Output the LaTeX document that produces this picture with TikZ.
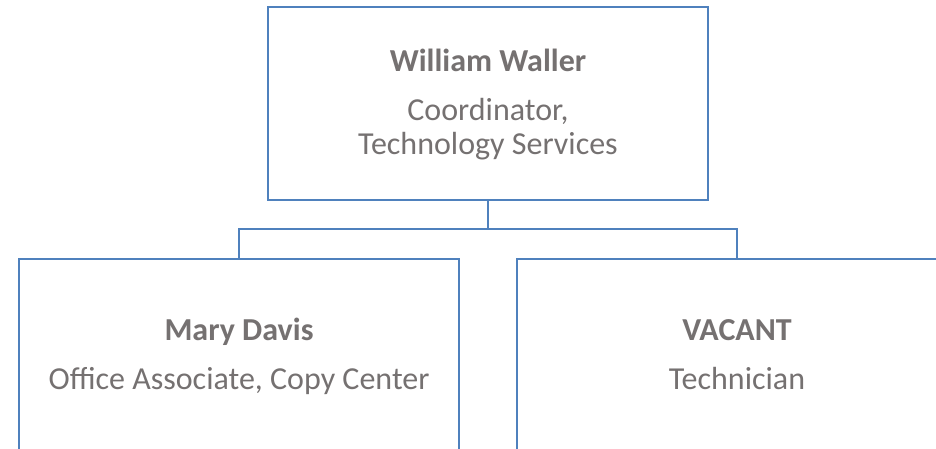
\documentclass[tikz,border=0pt]{standalone}
\usepackage{fontspec}
\setmainfont{Carlito}
\definecolor{boxblue}{RGB}{79,129,189}
\definecolor{txtgray}{RGB}{117,113,113}
\begin{document}
\begin{tikzpicture}[x=1pt,y=-1pt,
  orgbox/.style={draw=boxblue,line width=2.4pt,rectangle,minimum width=440pt,minimum height=193pt,inner sep=0pt,outer sep=0pt,anchor=north west},
  pname/.style={font=\fontsize{32}{36}\selectfont\bfseries,text=txtgray,anchor=base,inner sep=0pt},
  prole/.style={font=\fontsize{32}{36}\selectfont,text=txtgray,anchor=base,inner sep=0pt},
  link/.style={draw=boxblue,line width=2.4pt}]
\useasboundingbox (0,0) rectangle (936,449);
\clip (0,0) rectangle (936,449);
\node[orgbox] (top) at (268,7) {};
\node[orgbox] (left) at (19,259) {};
\node[orgbox] (right) at (517,259) {};
\node[pname] (n1) at (488,72) {William Waller};
\node[prole] (r1) at (488,121) {Coordinator,};
\node[prole] (r1b) at (488,155) {Technology Services};
\node[pname] (n2) at (239,340) {Mary Davis};
\node[prole] (r2) at (239,389) {Office Associate, Copy Center};
\node[pname] (n3) at (737,340) {VACANT};
\node[prole] (r3) at (737,389) {Technician};
\coordinate (mid) at (488,229);
\draw[link] (top.south) -- (mid);
\draw[link] (mid) -| (left.north);
\draw[link] (mid) -| (right.north);
\end{tikzpicture}
\end{document}
